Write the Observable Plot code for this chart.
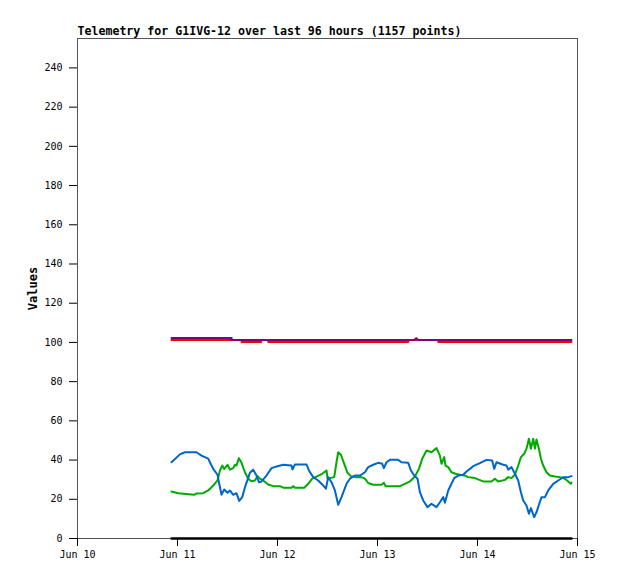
<!DOCTYPE html>
<html>
<head>
<meta charset="utf-8">
<script src="https://cdn.jsdelivr.net/npm/d3@7"></script>
<script src="https://cdn.jsdelivr.net/npm/@observablehq/plot@0.6"></script>
<style>
  html, body { margin: 0; padding: 0; background: #fff; }
  svg text { font-family: "DejaVu Sans Mono", monospace; }
</style>
</head>
<body>
<div id="chart"></div>
<script>
// Hours after Jun 10 00:00 and values
const titleText = "Telemetry for G1IVG-12 over last 96 hours (1157 points)";
const yLabel = "Values";
const yTicks = [0, 20, 40, 60, 80, 100, 120, 140, 160, 180, 200, 220, 240];

const blueHours = [22.56, 24.58, 25.78, 28.56, 29.76, 31.37, 32.57, 33.6, 33.94, 34.56, 35.21, 36.0, 36.58, 37.37, 38.16, 38.81, 39.53, 40.32, 41.38, 42.17, 42.96, 43.54, 44.16, 45.36, 46.56, 47.76, 49.37, 51.36, 51.6, 52.18, 54.96, 55.54, 56.57, 57.77, 58.97, 59.62, 60.17, 60.96, 61.78, 62.57, 63.36, 64.56, 65.38, 66.58, 67.78, 68.98, 69.77, 70.97, 72.17, 73.13, 73.54, 74.16, 74.98, 76.97, 77.76, 79.37, 80.02, 80.81, 81.6, 82.18, 82.97, 84.0, 84.96, 86.16, 86.98, 87.77, 88.18, 88.97, 89.76, 90.41, 91.37, 92.57, 93.36, 94.73, 94.97, 96.58, 98.16, 99.53, 100.01, 100.56, 102.17, 102.96, 103.37, 104.16, 104.98, 105.77, 106.42, 106.97, 107.76, 108.34, 108.82, 109.61, 110.16, 110.74, 111.36, 112.18, 112.97, 114.17, 115.37, 116.57, 117.77, 118.56];
const blueValues = [38.9, 42.9, 44.0, 44.0, 42.3, 40.7, 35.5, 32.5, 28.7, 22.3, 25, 23.3, 24.5, 22.3, 23.1, 19.2, 21.1, 27, 33.5, 35.1, 32.1, 28.7, 29.1, 32.1, 35.9, 36.7, 37.6, 37.2, 35.2, 37.8, 37.8, 34.7, 31.3, 29.6, 27, 25.4, 31.3, 28.7, 24.5, 17.2, 21.1, 27.9, 30.5, 32.1, 32.1, 33.8, 36.4, 37.6, 38.6, 38.1, 35.9, 38.9, 40.1, 40.1, 38.9, 38.6, 34.7, 32.1, 30.5, 23.6, 19.4, 16, 17.7, 16, 18.5, 21.1, 18.2, 24.5, 27.9, 30.8, 32.1, 32.5, 34.2, 36.4, 36.9, 38.4, 40.1, 39.8, 35.5, 38.9, 37.6, 37.2, 35.1, 36.4, 33, 29.6, 23.6, 19.4, 16.8, 12.6, 15.5, 10.9, 13.4, 17.2, 21.1, 21.1, 24.5, 27.9, 29.6, 31.3, 31.3, 31.8];

const greenHours = [22.56, 24.17, 28.01, 28.56, 30.17, 31.37, 32.57, 33.6, 34.18, 34.73, 35.21, 36.0, 36.58, 37.37, 37.78, 38.16, 38.74, 39.36, 40.18, 40.97, 41.76, 42.58, 43.2, 43.78, 44.57, 45.77, 46.97, 48.58, 49.37, 51.36, 51.77, 52.18, 54.41, 55.37, 56.33, 57.6, 58.73, 59.76, 60.0, 60.58, 61.61, 62.16, 62.57, 63.22, 64.01, 64.8, 65.62, 66.72, 68.16, 68.98, 69.77, 70.97, 72.96, 73.54, 73.92, 77.38, 78.58, 79.78, 80.98, 81.94, 82.73, 83.76, 84.96, 86.16, 86.98, 87.36, 88.01, 88.32, 88.97, 89.76, 90.72, 91.78, 92.98, 93.77, 95.38, 97.37, 99.36, 100.18, 100.97, 102.58, 103.37, 104.16, 104.98, 105.77, 106.42, 107.21, 107.76, 108.34, 108.82, 109.37, 109.78, 110.16, 110.74, 111.22, 111.77, 112.56, 113.38, 114.58, 115.78, 116.98, 117.77, 118.42, 118.56];
const greenValues = [24, 23.1, 22.3, 23, 23.1, 24.5, 27, 29.6, 34.7, 37.2, 35.5, 37.6, 35.1, 35.9, 37.6, 37.2, 41, 38.6, 33.8, 30.5, 29.2, 29.6, 31.8, 30.5, 29.6, 27.5, 26.7, 26.7, 25.9, 25.9, 26.7, 25.9, 25.9, 27.9, 30.5, 31.8, 33, 34.7, 30.5, 30.8, 31.3, 38.9, 44, 42.7, 38.1, 33.5, 31.8, 31.3, 31.3, 30.5, 28.3, 27.4, 27.4, 28.4, 26.7, 26.7, 27.9, 29.1, 31.6, 35.5, 40.7, 44.9, 44, 46.1, 42.3, 38.1, 41.5, 37.2, 36.4, 33.8, 33, 32.5, 32.1, 31.3, 30.8, 29.1, 29.1, 30.5, 29.1, 29.9, 31.3, 30.8, 32.5, 37.2, 41.5, 43.2, 45.8, 50.9, 45.8, 50.9, 45.8, 50.5, 45.8, 40.7, 37.2, 33.8, 32.1, 31.6, 31.3, 30.5, 29.1, 27.9, 28.5];

const redHours = [22.56, 39.4, 39.4, 44.1, 44.1, 45.8, 45.8, 79.4, 79.4, 86.6, 86.6, 118.56];
const redValues = [101.2, 101.2, 100.2, 100.2, 101.2, 101.2, 100.2, 100.2, 101.2, 101.2, 100.2, 100.2];

const purpleHours = [22.56, 37.0, 37.0, 80.8, 81.3, 81.8, 118.56];
const purpleValues = [102.2, 102.2, 101.2, 101.2, 102.2, 101.2, 101.2];

const blackHours = [22.56, 118.56];
const blackValues = [0, 0];

const t0 = Date.UTC(2024, 5, 10);
const toDate = h => new Date(t0 + h * 3600e3);
const series = (hours, values) => hours.map((h, i) => ({t: toDate(h), v: values[i]}));

const black = series(blackHours, blackValues);
const green = series(greenHours, greenValues);
const blue = series(blueHours, blueValues);
const red = series(redHours, redValues);
const purple = series(purpleHours, purpleValues);

const chart = Plot.plot({
  width: 618,
  height: 579,
  marginTop: 38,
  marginBottom: 41,
  marginLeft: 77,
  marginRight: 41,
  style: {fontFamily: "DejaVu Sans Mono, monospace", fontSize: "10px", background: "#fff", color: "#000", overflow: "visible"},
  x: {type: "utc", domain: [toDate(0), toDate(120)]},
  y: {domain: [0, 255]},
  marks: [
    Plot.frame({stroke: "#555", strokeWidth: 1}),
    Plot.axisX({ticks: d3.utcDay.every(1), tickFormat: d3.utcFormat("%b %d"), tickSize: 8, tickPadding: 4, label: null, stroke: "#000"}),
    Plot.axisY({ticks: yTicks, tickSize: 8, tickPadding: 7, label: null, stroke: "#000"}),
    Plot.line(black, {x: "t", y: "v", stroke: "#000", strokeWidth: 2.5}),
    Plot.line(red, {x: "t", y: "v", stroke: "#ff0000", strokeWidth: 2, curve: "linear"}),
    Plot.line(purple, {x: "t", y: "v", stroke: "#800080", strokeWidth: 2, curve: "linear"}),
    Plot.line(green, {x: "t", y: "v", stroke: "#00aa00", strokeWidth: 2, curve: "linear"}),
    Plot.line(blue, {x: "t", y: "v", stroke: "#0066cc", strokeWidth: 2, curve: "linear"}),
    Plot.text([yLabel], {frameAnchor: "left", rotate: -90, dx: -44, fontWeight: "bold", fontSize: 12, textAnchor: "middle", fill: "#000"}),
    Plot.text([titleText], {frameAnchor: "top-left", dy: -4, lineAnchor: "bottom", textAnchor: "start", fontWeight: "bold", fontSize: 11.6, fill: "#000"})
  ]
});

document.getElementById("chart").appendChild(chart);
</script>
</body>
</html>
